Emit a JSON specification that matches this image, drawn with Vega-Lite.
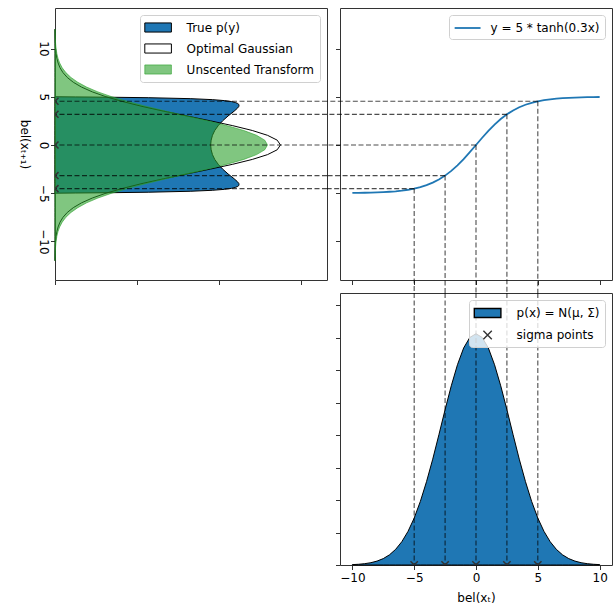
{
  "$schema": "https://vega.github.io/schema/vega-lite/v6.json",
  "background": "white",
  "padding": {"left": 18, "top": 7, "right": 1, "bottom": 0},
  "spacing": 13,
  "bounds": "flush",
  "config": {
    "font": "DejaVu Sans",
    "view": {"stroke": "#333", "strokeWidth": 1},
    "axis": {"domain": false, "grid": false, "tickColor": "#333", "tickSize": 4.5, "tickWidth": 1, "tickCount": 50, "format": "d", "labelFontSize": 12, "labelColor": "black", "labelFont": "DejaVu Sans", "titleFont": "DejaVu Sans", "titleFontSize": 12, "titleFontWeight": "normal", "titleColor": "black", "labelPadding": 3},
    "legend": {"orient": "top-right", "offset": 7, "padding": 5, "fillColor": "rgba(255,255,255,0.8)", "strokeColor": "#d0d0d0", "cornerRadius": 3, "labelFontSize": 12, "labelFont": "DejaVu Sans", "labelColor": "black", "symbolSize": 196, "symbolStrokeWidth": 1, "symbolOffset": 5.6, "labelOffset": 21, "rowPadding": 6, "labelLimit": 300}
  },
  "resolve": {
    "scale": {"fill": "independent", "stroke": "independent", "color": "independent", "shape": "independent"},
    "legend": {"fill": "independent", "stroke": "independent", "color": "independent", "shape": "independent"}
  },
  "hconcat": [
    {
      "width": 272,
      "height": 272,
      "layer": [
        {
          "data": {"values": [
            {"series": "True p(y)", "v": -5, "d": 0},
            {"series": "True p(y)", "v": -4.98, "d": 0.0127},
            {"series": "True p(y)", "v": -4.95, "d": 0.0334},
            {"series": "True p(y)", "v": -4.9, "d": 0.0569},
            {"series": "True p(y)", "v": -4.8, "d": 0.0829},
            {"series": "True p(y)", "v": -4.7, "d": 0.096},
            {"series": "True p(y)", "v": -4.6, "d": 0.1034},
            {"series": "True p(y)", "v": -4.5, "d": 0.1077},
            {"series": "True p(y)", "v": -4.4, "d": 0.1101},
            {"series": "True p(y)", "v": -4.3, "d": 0.1115},
            {"series": "True p(y)", "v": -4.2, "d": 0.1122},
            {"series": "True p(y)", "v": -4.1, "d": 0.1123},
            {"series": "True p(y)", "v": -4.0, "d": 0.1122},
            {"series": "True p(y)", "v": -3.8, "d": 0.1113},
            {"series": "True p(y)", "v": -3.5, "d": 0.1093},
            {"series": "True p(y)", "v": -3.0, "d": 0.1056},
            {"series": "True p(y)", "v": -2.5, "d": 0.1023},
            {"series": "True p(y)", "v": -2.0, "d": 0.0996},
            {"series": "True p(y)", "v": -1.5, "d": 0.0975},
            {"series": "True p(y)", "v": -1.0, "d": 0.0961},
            {"series": "True p(y)", "v": -0.5, "d": 0.0953},
            {"series": "True p(y)", "v": 0, "d": 0.095},
            {"series": "True p(y)", "v": 0.5, "d": 0.0953},
            {"series": "True p(y)", "v": 1.0, "d": 0.0961},
            {"series": "True p(y)", "v": 1.5, "d": 0.0975},
            {"series": "True p(y)", "v": 2.0, "d": 0.0996},
            {"series": "True p(y)", "v": 2.5, "d": 0.1023},
            {"series": "True p(y)", "v": 3.0, "d": 0.1056},
            {"series": "True p(y)", "v": 3.5, "d": 0.1093},
            {"series": "True p(y)", "v": 3.8, "d": 0.1113},
            {"series": "True p(y)", "v": 4.0, "d": 0.1122},
            {"series": "True p(y)", "v": 4.1, "d": 0.1123},
            {"series": "True p(y)", "v": 4.2, "d": 0.1122},
            {"series": "True p(y)", "v": 4.3, "d": 0.1115},
            {"series": "True p(y)", "v": 4.4, "d": 0.1101},
            {"series": "True p(y)", "v": 4.5, "d": 0.1077},
            {"series": "True p(y)", "v": 4.6, "d": 0.1034},
            {"series": "True p(y)", "v": 4.7, "d": 0.096},
            {"series": "True p(y)", "v": 4.8, "d": 0.0829},
            {"series": "True p(y)", "v": 4.9, "d": 0.0569},
            {"series": "True p(y)", "v": 4.95, "d": 0.0334},
            {"series": "True p(y)", "v": 4.98, "d": 0.0127},
            {"series": "True p(y)", "v": 5, "d": 0},
            {"series": "Optimal Gaussian", "v": -12, "d": 0.00003},
            {"series": "Optimal Gaussian", "v": -11, "d": 0.0001},
            {"series": "Optimal Gaussian", "v": -10.5, "d": 0.0002},
            {"series": "Optimal Gaussian", "v": -10, "d": 0.00036},
            {"series": "Optimal Gaussian", "v": -9.5, "d": 0.00064},
            {"series": "Optimal Gaussian", "v": -9, "d": 0.00111},
            {"series": "Optimal Gaussian", "v": -8.5, "d": 0.00188},
            {"series": "Optimal Gaussian", "v": -8, "d": 0.00306},
            {"series": "Optimal Gaussian", "v": -7.5, "d": 0.00486},
            {"series": "Optimal Gaussian", "v": -7, "d": 0.00747},
            {"series": "Optimal Gaussian", "v": -6.5, "d": 0.01116},
            {"series": "Optimal Gaussian", "v": -6, "d": 0.0162},
            {"series": "Optimal Gaussian", "v": -5.5, "d": 0.0228},
            {"series": "Optimal Gaussian", "v": -5, "d": 0.0311},
            {"series": "Optimal Gaussian", "v": -4.5, "d": 0.0413},
            {"series": "Optimal Gaussian", "v": -4, "d": 0.0531},
            {"series": "Optimal Gaussian", "v": -3.5, "d": 0.0664},
            {"series": "Optimal Gaussian", "v": -3, "d": 0.0806},
            {"series": "Optimal Gaussian", "v": -2.5, "d": 0.0949},
            {"series": "Optimal Gaussian", "v": -2, "d": 0.1085},
            {"series": "Optimal Gaussian", "v": -1.5, "d": 0.1204},
            {"series": "Optimal Gaussian", "v": -1, "d": 0.1297},
            {"series": "Optimal Gaussian", "v": -0.5, "d": 0.1356},
            {"series": "Optimal Gaussian", "v": 0, "d": 0.1376},
            {"series": "Optimal Gaussian", "v": 0.5, "d": 0.1356},
            {"series": "Optimal Gaussian", "v": 1, "d": 0.1297},
            {"series": "Optimal Gaussian", "v": 1.5, "d": 0.1204},
            {"series": "Optimal Gaussian", "v": 2, "d": 0.1085},
            {"series": "Optimal Gaussian", "v": 2.5, "d": 0.0949},
            {"series": "Optimal Gaussian", "v": 3, "d": 0.0806},
            {"series": "Optimal Gaussian", "v": 3.5, "d": 0.0664},
            {"series": "Optimal Gaussian", "v": 4, "d": 0.0531},
            {"series": "Optimal Gaussian", "v": 4.5, "d": 0.0413},
            {"series": "Optimal Gaussian", "v": 5, "d": 0.0311},
            {"series": "Optimal Gaussian", "v": 5.5, "d": 0.0228},
            {"series": "Optimal Gaussian", "v": 6, "d": 0.0162},
            {"series": "Optimal Gaussian", "v": 6.5, "d": 0.01116},
            {"series": "Optimal Gaussian", "v": 7, "d": 0.00747},
            {"series": "Optimal Gaussian", "v": 7.5, "d": 0.00486},
            {"series": "Optimal Gaussian", "v": 8, "d": 0.00306},
            {"series": "Optimal Gaussian", "v": 8.5, "d": 0.00188},
            {"series": "Optimal Gaussian", "v": 9, "d": 0.00111},
            {"series": "Optimal Gaussian", "v": 9.5, "d": 0.00064},
            {"series": "Optimal Gaussian", "v": 10, "d": 0.00036},
            {"series": "Optimal Gaussian", "v": 10.5, "d": 0.0002},
            {"series": "Optimal Gaussian", "v": 11, "d": 0.0001},
            {"series": "Optimal Gaussian", "v": 12, "d": 0.00003},
            {"series": "Unscented Transform", "v": -12, "d": 0.00006},
            {"series": "Unscented Transform", "v": -11, "d": 0.00022},
            {"series": "Unscented Transform", "v": -10.5, "d": 0.00038},
            {"series": "Unscented Transform", "v": -10, "d": 0.00066},
            {"series": "Unscented Transform", "v": -9.5, "d": 0.0011},
            {"series": "Unscented Transform", "v": -9, "d": 0.00179},
            {"series": "Unscented Transform", "v": -8.5, "d": 0.00285},
            {"series": "Unscented Transform", "v": -8, "d": 0.0044},
            {"series": "Unscented Transform", "v": -7.5, "d": 0.00663},
            {"series": "Unscented Transform", "v": -7, "d": 0.00973},
            {"series": "Unscented Transform", "v": -6.5, "d": 0.0139},
            {"series": "Unscented Transform", "v": -6, "d": 0.0193},
            {"series": "Unscented Transform", "v": -5.5, "d": 0.0262},
            {"series": "Unscented Transform", "v": -5, "d": 0.0346},
            {"series": "Unscented Transform", "v": -4.5, "d": 0.0445},
            {"series": "Unscented Transform", "v": -4, "d": 0.0557},
            {"series": "Unscented Transform", "v": -3.5, "d": 0.0679},
            {"series": "Unscented Transform", "v": -3, "d": 0.0806},
            {"series": "Unscented Transform", "v": -2.5, "d": 0.0932},
            {"series": "Unscented Transform", "v": -2, "d": 0.105},
            {"series": "Unscented Transform", "v": -1.5, "d": 0.1152},
            {"series": "Unscented Transform", "v": -1, "d": 0.123},
            {"series": "Unscented Transform", "v": -0.5, "d": 0.128},
            {"series": "Unscented Transform", "v": 0, "d": 0.1297},
            {"series": "Unscented Transform", "v": 0.5, "d": 0.128},
            {"series": "Unscented Transform", "v": 1, "d": 0.123},
            {"series": "Unscented Transform", "v": 1.5, "d": 0.1152},
            {"series": "Unscented Transform", "v": 2, "d": 0.105},
            {"series": "Unscented Transform", "v": 2.5, "d": 0.0932},
            {"series": "Unscented Transform", "v": 3, "d": 0.0806},
            {"series": "Unscented Transform", "v": 3.5, "d": 0.0679},
            {"series": "Unscented Transform", "v": 4, "d": 0.0557},
            {"series": "Unscented Transform", "v": 4.5, "d": 0.0445},
            {"series": "Unscented Transform", "v": 5, "d": 0.0346},
            {"series": "Unscented Transform", "v": 5.5, "d": 0.0262},
            {"series": "Unscented Transform", "v": 6, "d": 0.0193},
            {"series": "Unscented Transform", "v": 6.5, "d": 0.0139},
            {"series": "Unscented Transform", "v": 7, "d": 0.00973},
            {"series": "Unscented Transform", "v": 7.5, "d": 0.00663},
            {"series": "Unscented Transform", "v": 8, "d": 0.0044},
            {"series": "Unscented Transform", "v": 8.5, "d": 0.00285},
            {"series": "Unscented Transform", "v": 9, "d": 0.00179},
            {"series": "Unscented Transform", "v": 9.5, "d": 0.0011},
            {"series": "Unscented Transform", "v": 10, "d": 0.00066},
            {"series": "Unscented Transform", "v": 10.5, "d": 0.00038},
            {"series": "Unscented Transform", "v": 11, "d": 0.00022},
            {"series": "Unscented Transform", "v": 12, "d": 0.00006}
          ]},
          "mark": {"type": "area", "orient": "horizontal", "strokeWidth": 1},
          "encoding": {
            "y": {"field": "v", "type": "quantitative", "scale": {"domain": [-14, 14.2], "nice": false, "zero": false}, "axis": {"values": [-10, -5, 0, 5, 10], "tickCount": 50, "format": "d", "labelAngle": 90, "title": "bel(xₜ₊₁)", "titleAngle": 90, "titleBaseline": "top", "titlePadding": 8, "labelPadding": 2}},
            "x": {"field": "d", "type": "quantitative", "stack": null, "scale": {"domain": [0, 0.166], "nice": false, "zero": false}, "axis": {"values": [0, 0.05, 0.1, 0.15], "tickCount": 50, "labels": false, "title": null}},
            "fill": {"field": "series", "type": "nominal", "scale": {"domain": ["True p(y)", "Optimal Gaussian", "Unscented Transform"], "range": ["#1f77b4", "rgba(0,0,0,0)", "rgba(44,160,44,0.6)"]}, "legend": {"title": null, "symbolType": "M-1.9,-0.65H1.9V0.65H-1.9Z"}},
            "stroke": {"field": "series", "type": "nominal", "scale": {"domain": ["True p(y)", "Optimal Gaussian", "Unscented Transform"], "range": ["black", "black", "rgba(44,160,44,0.6)"]}, "legend": {"title": null, "symbolType": "M-1.9,-0.65H1.9V0.65H-1.9Z"}}
          }
        },
        {
          "data": {"values": [{"s": -5, "ty": -4.5257}, {"s": -2.5, "ty": -3.1758}, {"s": 0, "ty": 0}, {"s": 2.5, "ty": 3.1758}, {"s": 5, "ty": 4.5257}]},
          "mark": {"type": "rule", "color": "black", "opacity": 0.7, "strokeWidth": 1.1, "strokeDash": [5, 2.5]},
          "encoding": {"y": {"field": "ty", "type": "quantitative"}}
        },
        {
          "data": {"values": [{"s": -5, "ty": -4.5257}, {"s": -2.5, "ty": -3.1758}, {"s": 0, "ty": 0}, {"s": 2.5, "ty": 3.1758}, {"s": 5, "ty": 4.5257}]},
          "mark": {"type": "point", "shape": "M-0.57,-0.57L0.57,0.57M-0.57,0.57L0.57,-0.57", "size": 150, "filled": false, "opacity": 1, "stroke": "#333", "strokeWidth": 1.5, "clip": true},
          "encoding": {"x": {"datum": 0, "type": "quantitative"}, "y": {"field": "ty", "type": "quantitative"}}
        }
      ]
    },
    {
      "spacing": 13,
      "bounds": "flush",
      "resolve": {
        "scale": {"fill": "independent", "stroke": "independent", "color": "independent", "shape": "independent"},
        "legend": {"fill": "independent", "stroke": "independent", "color": "independent", "shape": "independent"}
      },
      "vconcat": [
        {
          "width": 272,
          "height": 272,
          "layer": [
            {
              "data": {"values": [
                {"series": "y = 5 * tanh(0.3x)", "x": -10, "y": -4.9753},
                {"series": "y = 5 * tanh(0.3x)", "x": -9.5, "y": -4.9666},
                {"series": "y = 5 * tanh(0.3x)", "x": -9, "y": -4.955},
                {"series": "y = 5 * tanh(0.3x)", "x": -8.5, "y": -4.9393},
                {"series": "y = 5 * tanh(0.3x)", "x": -8, "y": -4.9183},
                {"series": "y = 5 * tanh(0.3x)", "x": -7.5, "y": -4.8902},
                {"series": "y = 5 * tanh(0.3x)", "x": -7, "y": -4.8522},
                {"series": "y = 5 * tanh(0.3x)", "x": -6.5, "y": -4.8016},
                {"series": "y = 5 * tanh(0.3x)", "x": -6, "y": -4.7341},
                {"series": "y = 5 * tanh(0.3x)", "x": -5.5, "y": -4.6443},
                {"series": "y = 5 * tanh(0.3x)", "x": -5, "y": -4.5257},
                {"series": "y = 5 * tanh(0.3x)", "x": -4.5, "y": -4.3703},
                {"series": "y = 5 * tanh(0.3x)", "x": -4, "y": -4.1683},
                {"series": "y = 5 * tanh(0.3x)", "x": -3.5, "y": -3.9091},
                {"series": "y = 5 * tanh(0.3x)", "x": -3, "y": -3.5815},
                {"series": "y = 5 * tanh(0.3x)", "x": -2.5, "y": -3.1758},
                {"series": "y = 5 * tanh(0.3x)", "x": -2, "y": -2.6852},
                {"series": "y = 5 * tanh(0.3x)", "x": -1.5, "y": -2.1095},
                {"series": "y = 5 * tanh(0.3x)", "x": -1, "y": -1.4566},
                {"series": "y = 5 * tanh(0.3x)", "x": -0.5, "y": -0.7444},
                {"series": "y = 5 * tanh(0.3x)", "x": 0, "y": 0},
                {"series": "y = 5 * tanh(0.3x)", "x": 0.5, "y": 0.7444},
                {"series": "y = 5 * tanh(0.3x)", "x": 1, "y": 1.4566},
                {"series": "y = 5 * tanh(0.3x)", "x": 1.5, "y": 2.1095},
                {"series": "y = 5 * tanh(0.3x)", "x": 2, "y": 2.6852},
                {"series": "y = 5 * tanh(0.3x)", "x": 2.5, "y": 3.1758},
                {"series": "y = 5 * tanh(0.3x)", "x": 3, "y": 3.5815},
                {"series": "y = 5 * tanh(0.3x)", "x": 3.5, "y": 3.9091},
                {"series": "y = 5 * tanh(0.3x)", "x": 4, "y": 4.1683},
                {"series": "y = 5 * tanh(0.3x)", "x": 4.5, "y": 4.3703},
                {"series": "y = 5 * tanh(0.3x)", "x": 5, "y": 4.5257},
                {"series": "y = 5 * tanh(0.3x)", "x": 5.5, "y": 4.6443},
                {"series": "y = 5 * tanh(0.3x)", "x": 6, "y": 4.7341},
                {"series": "y = 5 * tanh(0.3x)", "x": 6.5, "y": 4.8016},
                {"series": "y = 5 * tanh(0.3x)", "x": 7, "y": 4.8522},
                {"series": "y = 5 * tanh(0.3x)", "x": 7.5, "y": 4.8902},
                {"series": "y = 5 * tanh(0.3x)", "x": 8, "y": 4.9183},
                {"series": "y = 5 * tanh(0.3x)", "x": 8.5, "y": 4.9393},
                {"series": "y = 5 * tanh(0.3x)", "x": 9, "y": 4.955},
                {"series": "y = 5 * tanh(0.3x)", "x": 9.5, "y": 4.9666},
                {"series": "y = 5 * tanh(0.3x)", "x": 10, "y": 4.9753}
              ]},
              "mark": {"type": "line", "strokeWidth": 1.8},
              "encoding": {
                "x": {"field": "x", "type": "quantitative", "scale": {"domain": [-11, 11], "nice": false, "zero": false}, "axis": {"values": [-10, -5, 0, 5, 10], "tickCount": 50, "labels": false, "title": null}},
                "y": {"field": "y", "type": "quantitative", "scale": {"domain": [-14, 14.2], "nice": false, "zero": false}, "axis": {"values": [-10, -5, 0, 5, 10], "tickCount": 50, "labels": false, "title": null}},
                "color": {"field": "series", "type": "nominal", "scale": {"range": ["#1f77b4"]}, "legend": {"title": null, "symbolType": "M-1.85,0H1.85", "symbolStrokeWidth": 1.8, "symbolFillColor": "transparent", "labelOffset": 15}}
              }
            },
            {
              "data": {"values": [{"s": -5, "ty": -4.5257, "edge": -12.05}, {"s": -2.5, "ty": -3.1758, "edge": -12.05}, {"s": 0, "ty": 0, "edge": -12.05}, {"s": 2.5, "ty": 3.1758, "edge": -12.05}, {"s": 5, "ty": 4.5257, "edge": -12.05}]},
              "mark": {"type": "rule", "color": "black", "opacity": 0.7, "strokeWidth": 1.1, "strokeDash": [5, 2.5], "clip": false},
              "encoding": {"x": {"field": "s", "type": "quantitative"}, "x2": {"field": "edge"}, "y": {"field": "ty", "type": "quantitative"}}
            },
            {
              "data": {"values": [{"s": -5, "ty": -4.5257, "bottom": -15.35}, {"s": -2.5, "ty": -3.1758, "bottom": -15.35}, {"s": 0, "ty": 0, "bottom": -15.35}, {"s": 2.5, "ty": 3.1758, "bottom": -15.35}, {"s": 5, "ty": 4.5257, "bottom": -15.35}]},
              "mark": {"type": "rule", "color": "black", "opacity": 0.7, "strokeWidth": 1.1, "strokeDash": [5, 2.5], "clip": false},
              "encoding": {"x": {"field": "s", "type": "quantitative"}, "y": {"field": "ty", "type": "quantitative"}, "y2": {"field": "bottom"}}
            }
          ]
        },
        {
          "width": 272,
          "height": 272,
          "layer": [
            {
              "data": {"values": [
                {"series": "p(x) = N(μ, Σ)", "x": -10, "p": 0.00024},
                {"series": "p(x) = N(μ, Σ)", "x": -9.5, "p": 0.00045},
                {"series": "p(x) = N(μ, Σ)", "x": -9, "p": 0.00081},
                {"series": "p(x) = N(μ, Σ)", "x": -8.5, "p": 0.00142},
                {"series": "p(x) = N(μ, Σ)", "x": -8, "p": 0.00241},
                {"series": "p(x) = N(μ, Σ)", "x": -7.5, "p": 0.00394},
                {"series": "p(x) = N(μ, Σ)", "x": -7, "p": 0.00626},
                {"series": "p(x) = N(μ, Σ)", "x": -6.5, "p": 0.00963},
                {"series": "p(x) = N(μ, Σ)", "x": -6, "p": 0.01435},
                {"series": "p(x) = N(μ, Σ)", "x": -5.5, "p": 0.0207},
                {"series": "p(x) = N(μ, Σ)", "x": -5, "p": 0.0289},
                {"series": "p(x) = N(μ, Σ)", "x": -4.5, "p": 0.0392},
                {"series": "p(x) = N(μ, Σ)", "x": -4, "p": 0.0514},
                {"series": "p(x) = N(μ, Σ)", "x": -3.5, "p": 0.0652},
                {"series": "p(x) = N(μ, Σ)", "x": -3, "p": 0.0803},
                {"series": "p(x) = N(μ, Σ)", "x": -2.5, "p": 0.0957},
                {"series": "p(x) = N(μ, Σ)", "x": -2, "p": 0.1104},
                {"series": "p(x) = N(μ, Σ)", "x": -1.5, "p": 0.1234},
                {"series": "p(x) = N(μ, Σ)", "x": -1, "p": 0.1337},
                {"series": "p(x) = N(μ, Σ)", "x": -0.5, "p": 0.1402},
                {"series": "p(x) = N(μ, Σ)", "x": 0, "p": 0.1425},
                {"series": "p(x) = N(μ, Σ)", "x": 0.5, "p": 0.1402},
                {"series": "p(x) = N(μ, Σ)", "x": 1, "p": 0.1337},
                {"series": "p(x) = N(μ, Σ)", "x": 1.5, "p": 0.1234},
                {"series": "p(x) = N(μ, Σ)", "x": 2, "p": 0.1104},
                {"series": "p(x) = N(μ, Σ)", "x": 2.5, "p": 0.0957},
                {"series": "p(x) = N(μ, Σ)", "x": 3, "p": 0.0803},
                {"series": "p(x) = N(μ, Σ)", "x": 3.5, "p": 0.0652},
                {"series": "p(x) = N(μ, Σ)", "x": 4, "p": 0.0514},
                {"series": "p(x) = N(μ, Σ)", "x": 4.5, "p": 0.0392},
                {"series": "p(x) = N(μ, Σ)", "x": 5, "p": 0.0289},
                {"series": "p(x) = N(μ, Σ)", "x": 5.5, "p": 0.0207},
                {"series": "p(x) = N(μ, Σ)", "x": 6, "p": 0.01435},
                {"series": "p(x) = N(μ, Σ)", "x": 6.5, "p": 0.00963},
                {"series": "p(x) = N(μ, Σ)", "x": 7, "p": 0.00626},
                {"series": "p(x) = N(μ, Σ)", "x": 7.5, "p": 0.00394},
                {"series": "p(x) = N(μ, Σ)", "x": 8, "p": 0.00241},
                {"series": "p(x) = N(μ, Σ)", "x": 8.5, "p": 0.00142},
                {"series": "p(x) = N(μ, Σ)", "x": 9, "p": 0.00081},
                {"series": "p(x) = N(μ, Σ)", "x": 9.5, "p": 0.00045},
                {"series": "p(x) = N(μ, Σ)", "x": 10, "p": 0.00024}
              ]},
              "mark": {"type": "area", "strokeWidth": 1},
              "encoding": {
                "x": {"field": "x", "type": "quantitative", "scale": {"domain": [-11, 11], "nice": false, "zero": false}, "axis": {"values": [-10, -5, 0, 5, 10], "tickCount": 50, "format": "d", "title": "bel(xₜ)", "titlePadding": 9}},
                "y": {"field": "p", "type": "quantitative", "stack": null, "scale": {"domain": [0, 0.1676], "nice": false, "zero": false}, "axis": {"values": [0, 0.02, 0.04, 0.06, 0.08, 0.1, 0.12, 0.14, 0.16], "tickCount": 50, "labels": false, "title": null}},
                "fill": {"field": "series", "type": "nominal", "scale": {"domain": ["p(x) = N(μ, Σ)", "sigma points"], "range": ["#1f77b4", "rgba(0,0,0,0)"]}, "legend": {"title": null, "symbolStrokeWidth": 1.4}},
                "stroke": {"field": "series", "type": "nominal", "scale": {"domain": ["p(x) = N(μ, Σ)", "sigma points"], "range": ["black", "#333"]}, "legend": {"title": null, "symbolStrokeWidth": 1.4}}
              }
            },
            {
              "data": {"values": [{"s": -5, "ty": -4.5257}, {"s": -2.5, "ty": -3.1758}, {"s": 0, "ty": 0}, {"s": 2.5, "ty": 3.1758}, {"s": 5, "ty": 4.5257}]},
              "mark": {"type": "rule", "color": "black", "opacity": 0.7, "strokeWidth": 1.1, "strokeDash": [5, 2.5]},
              "encoding": {"x": {"field": "s", "type": "quantitative"}}
            },
            {
              "data": {"values": [{"series": "sigma points", "s": -5}, {"series": "sigma points", "s": -2.5}, {"series": "sigma points", "s": 0}, {"series": "sigma points", "s": 2.5}, {"series": "sigma points", "s": 5}]},
              "mark": {"type": "point", "size": 150, "strokeWidth": 1.5, "opacity": 1, "clip": true},
              "encoding": {
                "x": {"field": "s", "type": "quantitative"},
                "y": {"datum": 0, "type": "quantitative"},
                "shape": {"field": "series", "type": "nominal", "scale": {"domain": ["p(x) = N(μ, Σ)", "sigma points"], "range": ["M-1.9,-0.65H1.9V0.65H-1.9Z", "M-0.6,-0.6L0.6,0.6M-0.6,0.6L0.6,-0.6"]}, "legend": {"title": null, "symbolStrokeWidth": 1.4}},
                "fill": {"field": "series", "type": "nominal", "legend": {"title": null}},
                "stroke": {"field": "series", "type": "nominal", "legend": {"title": null}}
              }
            }
          ]
        }
      ]
    }
  ]
}
